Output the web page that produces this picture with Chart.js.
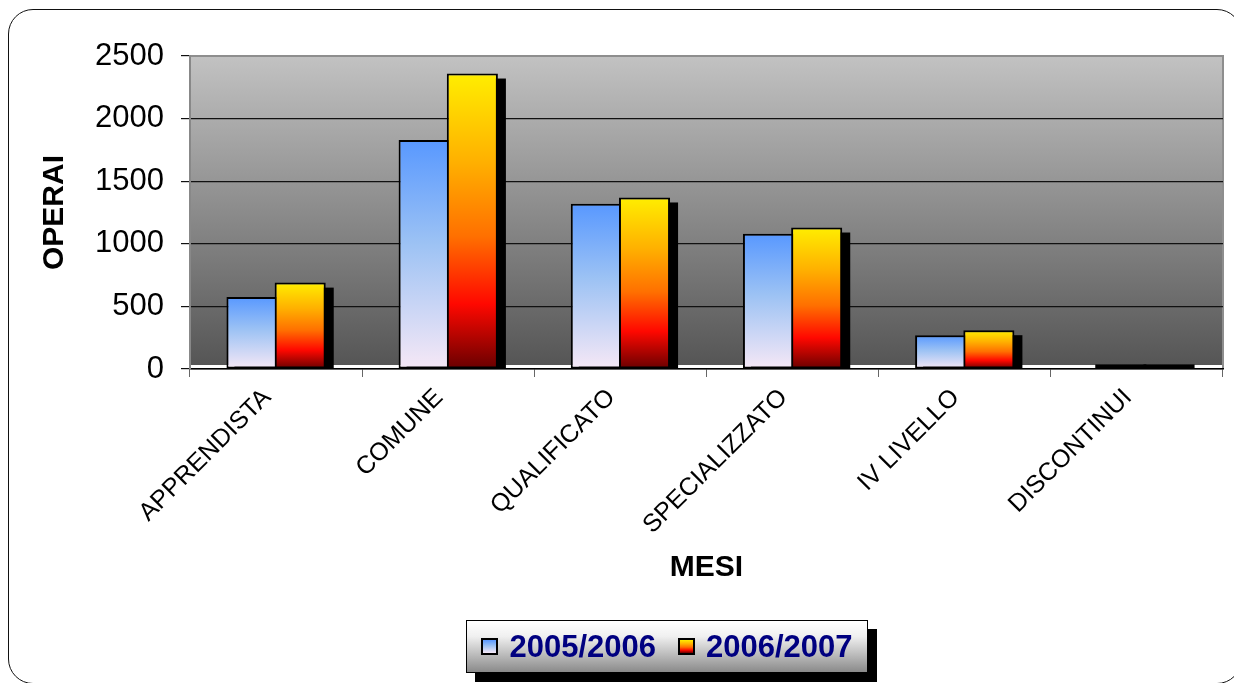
<!DOCTYPE html>
<html lang="it">
<head>
    <meta charset="UTF-8">
    <meta name="viewport" content="width=device-width, initial-scale=1.0">
    <title>Operai</title>
    <script src="https://cdn.jsdelivr.net/npm/chart.js@4.4.1/dist/chart.umd.min.js"></script>
    <style>
        body { margin: 0; background: #fff; overflow: hidden; font-family: "Liberation Sans", Arial, sans-serif; }
        .wrap { position: relative; width: 1234px; height: 683px; overflow: hidden; }
        .frame { position: absolute; left: 8px; top: 9px; width: 1234px; height: 675px; border: 1.5px solid #111; border-radius: 25px; box-sizing: border-box; }
        #myChart { position: absolute; left: 0; top: 0; }
        .legend { position: absolute; left: 466px; top: 620px; width: 402px; height: 53px; box-sizing: border-box; border: 1px solid #000; background: linear-gradient(#ffffff, #f0f0f0 30%, #8a8a8a); box-shadow: 9px 9px 0 #000; display: flex; align-items: center; justify-content: center; gap: 22px; }
        .legend .item { display: flex; align-items: center; font-weight: bold; font-size: 31px; color: #000080; }
        .legend .swatch { width: 17px; height: 17px; border: 2px solid #000; margin-right: 11px; box-sizing: border-box; }
    </style>
</head>
<body>
    <div class="wrap">
        <canvas id="myChart" width="1234" height="683"></canvas>
        <div class="frame"></div>
        <div class="legend" id="legend"></div>
    </div>

    <script>
      const categories = ['APPRENDISTA', 'COMUNE', 'QUALIFICATO', 'SPECIALIZZATO', 'IV LIVELLO', 'DISCONTINUI'];
      const seriesNames = ['2005/2006', '2006/2007'];
      const values0506 = [575, 1830, 1320, 1080, 270, 5];
      const values0607 = [690, 2360, 1370, 1130, 310, 8];
      const yTicks = [0, 500, 1000, 1500, 2000, 2500];

      const blueStops = [[0, '#5898ff'], [0.45, '#9cc2f4'], [1, '#f6e8f6']];
      const orangeStops = [[0, '#ffee00'], [0.3, '#ffb000'], [0.55, '#ff7000'], [0.78, '#ff0800'], [1, '#680000']];

      Chart.defaults.font.family = "'Liberation Sans', Arial, sans-serif";
      Chart.defaults.color = '#000';

      // gradient from the top of each bar down to zero
      function barGradient(stops) {
        return function(context) {
          const chart = context.chart;
          if (!chart.chartArea || context.type !== 'data') return stops[0][1];
          const y = chart.scales.y;
          const top = y.getPixelForValue(context.raw);
          const bottom = y.getPixelForValue(0);
          const g = chart.ctx.createLinearGradient(0, top, 0, bottom);
          stops.forEach(s => g.addColorStop(s[0], s[1]));
          return g;
        };
      }

      const plotBackground = {
        id: 'plotBackground',
        beforeDraw(chart) {
          const { ctx, chartArea: a } = chart;
          const g = ctx.createLinearGradient(0, a.top, 0, a.bottom);
          g.addColorStop(0, '#c2c2c2');
          g.addColorStop(1, '#545454');
          ctx.save();
          ctx.fillStyle = g;
          ctx.fillRect(a.left, a.top, a.width, a.height - 4);
          ctx.strokeStyle = '#8e8e8e';
          ctx.lineWidth = 2;
          ctx.beginPath();
          ctx.moveTo(a.left, a.top);
          ctx.lineTo(a.right, a.top);
          ctx.lineTo(a.right, a.bottom);
          ctx.stroke();
          ctx.restore();
        }
      };

      // black drop shadows, then series drawn left to right so the second overlaps the first
      const barShadows = {
        id: 'barShadows',
        beforeDatasetsDraw(chart) {
          const c = chart.ctx;
          const a = chart.chartArea;
          c.save();
          c.beginPath();
          c.rect(a.left, a.top, a.width, a.height);
          c.clip();
          c.fillStyle = '#000';
          chart.data.datasets.forEach((ds, i) => {
            chart.getDatasetMeta(i).data.forEach(bar => {
              const left = bar.x - bar.width / 2 + 8;
              const top = Math.min(bar.y + 5, bar.base - 4);
              c.fillRect(left, top, bar.width, bar.base - top);
            });
          });
          for (let i = 0; i < chart.data.datasets.length; i++) {
            chart.getDatasetMeta(i).controller.draw();
          }
          c.restore();
          return false;
        }
      };

      new Chart(document.getElementById('myChart'), {
        type: 'bar',
        data: {
          labels: categories,
          datasets: [
            {
              label: seriesNames[0],
              data: values0506,
              backgroundColor: barGradient(blueStops),
              borderColor: '#000',
              borderWidth: 2,
              borderSkipped: false
            },
            {
              label: seriesNames[1],
              data: values0607,
              backgroundColor: barGradient(orangeStops),
              borderColor: '#000',
              borderWidth: 2,
              borderSkipped: false
            }
          ]
        },
        options: {
          responsive: false,
          animation: false,
          events: [],
          barPercentage: 1.06,
          categoryPercentage: 0.56,
          layout: { padding: { left: 20, right: 11, top: 56, bottom: 93 } },
          plugins: {
            legend: { display: false },
            tooltip: { enabled: false }
          },
          scales: {
            x: {
              afterFit(scale) { scale.height = 221; },
              grid: { drawOnChartArea: false, drawTicks: true, tickLength: 8, color: '#666' },
              border: { color: '#000', width: 1.5 },
              ticks: { minRotation: 45, maxRotation: 45, autoSkip: false, padding: 6, labelOffset: -9, font: { size: 25 } },
              title: { display: true, text: 'MESI', font: { size: 30, weight: 'bold' }, padding: { top: 4, bottom: 4 } }
            },
            y: {
              min: 0,
              max: 2500,
              afterFit(scale) { scale.width = 170; },
              afterBuildTicks(scale) { scale.ticks = yTicks.map(v => ({ value: v })); },
              grid: {
                color: ctx => (ctx.tick && ctx.tick.value === 2500 ? '#8e8e8e' : '#111'),
                tickColor: '#111',
                tickLength: 9,
                lineWidth: 1.2
              },
              border: { color: '#888', width: 2 },
              ticks: { padding: 17, font: { size: 31 }, callback: v => String(v) },
              title: { display: true, text: 'OPERAI', font: { size: 30, weight: 'bold' }, padding: { top: 17, bottom: 0 } }
            }
          }
        },
        plugins: [plotBackground, barShadows]
      });

      // legend with gradient swatches
      const legendEl = document.getElementById('legend');
      [blueStops, orangeStops].forEach((stops, i) => {
        const item = document.createElement('div');
        item.className = 'item';
        const sw = document.createElement('span');
        sw.className = 'swatch';
        sw.style.background = 'linear-gradient(' + stops.map(s => s[1] + ' ' + (s[0] * 100) + '%').join(', ') + ')';
        const txt = document.createElement('span');
        txt.textContent = seriesNames[i];
        item.appendChild(sw);
        item.appendChild(txt);
        legendEl.appendChild(item);
      });
    </script>
</body>
</html>
